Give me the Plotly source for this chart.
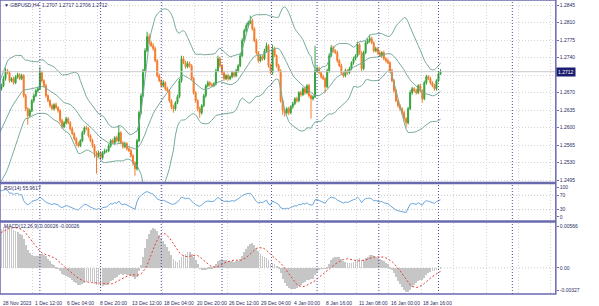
import numpy as np
import pandas as pd
import plotly.graph_objects as go

# ---------------- data (GBPUSD H4) ----------------
# closes before the first visible bar (only needed to warm up the indicators)
pre_close = [1.2402, 1.2396, 1.2410, 1.2422, 1.2416, 1.2430, 1.2444, 1.2436, 1.2450, 1.2462,
             1.2456, 1.2468, 1.2480, 1.2472, 1.2486, 1.2494, 1.2488, 1.2500, 1.2496, 1.2504,
             1.2510, 1.2522, 1.2516, 1.2532, 1.2546, 1.2540, 1.2556, 1.2572, 1.2566, 1.2584,
             1.2598, 1.2592, 1.2610, 1.2626, 1.2620, 1.2640, 1.2654, 1.2648, 1.2668, 1.2678]

close = [1.2684, 1.2698, 1.2714, 1.2710, 1.2694, 1.2698, 1.2690, 1.2702, 1.2706, 1.2698,
         1.2704, 1.2664, 1.2638, 1.2624, 1.2634, 1.2654, 1.2664, 1.2674, 1.2678, 1.2710,
         1.2694, 1.2684, 1.2664, 1.2654, 1.2644, 1.2638, 1.2646, 1.2640, 1.2634, 1.2614,
         1.2602, 1.2610, 1.2618, 1.2610, 1.2598, 1.2588, 1.2578, 1.2568, 1.2564, 1.2574,
         1.2590, 1.2600, 1.2598, 1.2584, 1.2574, 1.2564, 1.2550, 1.2544, 1.2550, 1.2540,
         1.2550, 1.2554, 1.2554, 1.2564, 1.2574, 1.2570, 1.2580, 1.2574, 1.2590, 1.2570,
         1.2562, 1.2568, 1.2558, 1.2554, 1.2544, 1.2530, 1.2518, 1.2574, 1.2630, 1.2664,
         1.2714, 1.2754, 1.2782, 1.2770, 1.2764, 1.2758, 1.2734, 1.2704, 1.2694, 1.2684,
         1.2690, 1.2678, 1.2674, 1.2654, 1.2642, 1.2638, 1.2650, 1.2662, 1.2694, 1.2738,
         1.2730, 1.2722, 1.2728, 1.2724, 1.2698, 1.2670, 1.2654, 1.2638, 1.2630, 1.2644,
         1.2664, 1.2684, 1.2690, 1.2686, 1.2684, 1.2688, 1.2714, 1.2738, 1.2724, 1.2710,
         1.2698, 1.2704, 1.2698, 1.2702, 1.2710, 1.2704, 1.2714, 1.2724, 1.2744, 1.2774,
         1.2794, 1.2804, 1.2810, 1.2814, 1.2798, 1.2774, 1.2750, 1.2734, 1.2742, 1.2738,
         1.2754, 1.2764, 1.2724, 1.2710, 1.2758, 1.2744, 1.2724, 1.2714, 1.2654, 1.2634,
         1.2630, 1.2638, 1.2630, 1.2642, 1.2648, 1.2658, 1.2654, 1.2670, 1.2666, 1.2678,
         1.2670, 1.2684, 1.2664, 1.2658, 1.2662, 1.2714, 1.2718, 1.2710, 1.2702, 1.2698,
         1.2682, 1.2714, 1.2744, 1.2760, 1.2754, 1.2750, 1.2734, 1.2724, 1.2710, 1.2704,
         1.2714, 1.2710, 1.2718, 1.2730, 1.2738, 1.2744, 1.2766, 1.2750, 1.2718, 1.2750,
         1.2770, 1.2774, 1.2778, 1.2770, 1.2754, 1.2758, 1.2750, 1.2744, 1.2750, 1.2738,
         1.2734, 1.2730, 1.2714, 1.2694, 1.2674, 1.2654, 1.2644, 1.2638, 1.2630, 1.2618,
         1.2610, 1.2638, 1.2670, 1.2678, 1.2674, 1.2670, 1.2684, 1.2674, 1.2658, 1.2690,
         1.2702, 1.2698, 1.2690, 1.2684, 1.2678, 1.2694, 1.2707, 1.2712]

# wick lengths in pips (0.0001) above max(open, close) / below min(open, close)
upper_wick = [4, 5, 6, 3, 4, 3, 4, 3, 4, 3,
              4, 3, 4, 3, 4, 3, 4, 3, 4, 12,
              4, 3, 4, 3, 3, 4, 3, 4, 3, 3,
              4, 3, 4, 3, 3, 4, 3, 3, 4, 3,
              4, 3, 4, 3, 3, 4, 3, 3, 4, 3,
              3, 4, 3, 4, 3, 4, 3, 4, 14, 3,
              3, 4, 3, 3, 4, 3, 3, 4, 4, 5,
              4, 5, 10, 6, 4, 5, 4, 3, 4, 3,
              5, 3, 4, 3, 3, 4, 3, 4, 4, 6,
              5, 4, 5, 4, 3, 4, 3, 3, 4, 3,
              4, 3, 4, 3, 4, 3, 4, 6, 4, 3,
              4, 3, 4, 3, 4, 3, 4, 3, 4, 5,
              4, 5, 4, 10, 4, 3, 4, 3, 4, 3,
              4, 6, 3, 4, 8, 4, 3, 4, 3, 3,
              4, 3, 4, 3, 4, 3, 4, 3, 4, 3,
              4, 3, 4, 3, 3, 50, 5, 4, 3, 4,
              3, 4, 5, 5, 4, 3, 4, 3, 4, 3,
              4, 3, 4, 3, 4, 3, 6, 4, 3, 4,
              4, 5, 8, 4, 3, 4, 3, 4, 3, 4,
              3, 4, 3, 4, 3, 3, 4, 3, 3, 4,
              3, 4, 5, 4, 3, 4, 3, 4, 3, 4,
              4, 3, 4, 3, 4, 3, 4, 5]
lower_wick = [4, 3, 4, 3, 4, 3, 4, 3, 4, 3,
              3, 4, 5, 18, 4, 3, 4, 3, 4, 3,
              4, 3, 4, 3, 4, 3, 4, 3, 4, 5,
              4, 3, 4, 3, 4, 3, 4, 5, 4, 3,
              3, 4, 3, 4, 3, 4, 10, 36, 4, 5,
              4, 3, 4, 3, 4, 3, 4, 3, 4, 3,
              4, 3, 4, 3, 4, 6, 14, 4, 3, 4,
              3, 4, 3, 4, 3, 4, 3, 4, 3, 4,
              3, 4, 3, 4, 5, 8, 4, 3, 3, 4,
              3, 4, 3, 4, 3, 4, 4, 5, 10, 4,
              3, 4, 3, 4, 3, 3, 4, 3, 4, 3,
              4, 3, 4, 3, 3, 4, 3, 4, 3, 3,
              3, 3, 4, 3, 4, 3, 4, 4, 3, 4,
              3, 4, 4, 3, 4, 3, 4, 3, 4, 8,
              8, 4, 5, 3, 4, 3, 4, 3, 4, 3,
              4, 3, 4, 40, 4, 3, 4, 3, 4, 3,
              12, 3, 4, 3, 4, 3, 4, 3, 4, 4,
              3, 4, 3, 3, 4, 3, 3, 4, 5, 3,
              3, 3, 4, 3, 4, 3, 4, 3, 4, 3,
              4, 3, 4, 3, 4, 3, 4, 5, 4, 5,
              10, 4, 3, 4, 3, 4, 3, 4, 8, 3,
              4, 3, 4, 3, 4, 4, 3, 1]

time_label_bars = [-0.3, 15.5, 31.5, 47.5, 63.5, 79.5, 95.5, 111.5, 127.5, 143.5, 159.5, 175.5, 191.5, 207.5]
time_label_text = ["28 Nov 2023", "1 Dec 12:00", "6 Dec 04:00", "8 Dec 20:00", "13 Dec 12:00",
                   "18 Dec 04:00", "20 Dec 20:00", "26 Dec 12:00", "29 Dec 04:00", "4 Jan 00:00",
                   "8 Jan 16:00", "11 Jan 08:00", "16 Jan 00:00", "18 Jan 16:00"]
grid_bars = [15.5, 31.5, 47.5, 63.5, 79.5, 95.5, 111.5, 127.5, 143.5, 159.5, 175.5, 191.5, 207.5,
             223.5, 239.5, 255.5, 271.5]
separator_bars = [19, 49, 79, 109, 133.5, 156, 186.5, 216, 252.5]
price_ticks = [1.2495, 1.2530, 1.2565, 1.2600, 1.2635, 1.2670, 1.2705, 1.2740, 1.2775, 1.2810, 1.2845]
price_tick_text = ["1.2495", "1.2530", "1.2565", "1.2600", "1.2635", "1.2670", "", "1.2740",
                   "1.2775", "1.2810", "1.2845"]
last_price = 1.2712

# ---------------- derived series ----------------
n_pre = len(pre_close)
all_close = pd.Series(pre_close + close)
all_idx = np.arange(-n_pre, len(close))
idx = np.arange(len(close))
opens = [pre_close[-1]] + close[:-1]
highs = [max(o, c) + u * 0.0001 for o, c, u in zip(opens, close, upper_wick)]
lows = [min(o, c) - l * 0.0001 for o, c, l in zip(opens, close, lower_wick)]

sma = all_close.rolling(20).mean()
sd = all_close.rolling(20).std(ddof=0)
bb_up, bb_lo = sma + 2 * sd, sma - 2 * sd

delta = all_close.diff()
gain = delta.clip(lower=0).ewm(alpha=1 / 14, adjust=False).mean()
loss = (-delta.clip(upper=0)).ewm(alpha=1 / 14, adjust=False).mean()
rsi = 100 - 100 / (1 + gain / loss)

macd = all_close.ewm(span=12, adjust=False).mean() - all_close.ewm(span=26, adjust=False).mean()
signal = macd.rolling(9).mean()

# ---------------- figure ----------------
GREEN = "#35a33c"
ORANGE = "#f47b2a"
BAND = "#78ab9c"
FRAME = "#6a6aae"
TXT = "#2a2a66"
FONT = "Liberation Sans"
DOT = "1px,2px"

fig = go.Figure()
for band in (bb_up, sma, bb_lo):
    fig.add_trace(go.Scatter(x=all_idx, y=band, mode="lines", line=dict(color=BAND, width=1),
                             xaxis="x", yaxis="y", hoverinfo="skip"))
fig.add_trace(go.Candlestick(x=idx, open=opens, high=highs, low=lows, close=close,
                             increasing=dict(line=dict(color=GREEN, width=1), fillcolor=GREEN),
                             decreasing=dict(line=dict(color=ORANGE, width=1), fillcolor=ORANGE),
                             whiskerwidth=0, xaxis="x", yaxis="y"))
fig.add_trace(go.Scatter(x=all_idx, y=rsi, mode="lines", line=dict(color="#6aa6dc", width=1),
                         xaxis="x2", yaxis="y2"))
fig.add_trace(go.Bar(x=all_idx, y=macd, width=0.4, marker=dict(color="#c6c6c6", line=dict(width=0)),
                     xaxis="x3", yaxis="y3"))
fig.add_trace(go.Scatter(x=all_idx, y=signal, mode="lines", line=dict(color="#e0403a", width=1, dash="2px,2px"),
                         xaxis="x3", yaxis="y3"))

XR = [-0.71, 274.0]
XD = [0, 0.9633]
xcommon = dict(range=XR, domain=XD, showticklabels=False, tickvals=grid_bars, ticks="",
               showgrid=True, gridcolor="#d6d6d6", griddash=DOT, gridwidth=1, zeroline=False,
               fixedrange=True)
ycommon = dict(side="right", showline=False, zeroline=False, ticks="outside", ticklen=2,
               tickcolor=FRAME, ticklabeloverflow="allow",
               tickfont=dict(family=FONT, size=5, color=TXT))

M_DOM = [1 - 182.5 / 294, 1]
R_DOM = [1 - 220.5 / 294, 1 - 184.5 / 294]
C_DOM = [0, 1 - 222.5 / 294]

fig.update_layout(
    width=599, height=306, margin=dict(l=0, r=22, t=0, b=12),
    paper_bgcolor="white", plot_bgcolor="white", showlegend=False, bargap=0,
    xaxis=dict(anchor="y", rangeslider=dict(visible=False), **xcommon),
    xaxis2=dict(anchor="y2", matches="x", **xcommon),
    xaxis3=dict(anchor="y3", matches="x", **xcommon),
    yaxis=dict(anchor="x", domain=M_DOM, range=[1.24904, 1.28554], tickvals=price_ticks,
               ticktext=price_tick_text, showgrid=True, gridcolor="#d6d6d6", griddash=DOT, **ycommon),
    yaxis2=dict(anchor="x2", domain=R_DOM, range=[0, 100], tickvals=[93, 70, 30, 10],
                ticktext=["100", "70", "30", "0"], showgrid=False, **ycommon),
    yaxis3=dict(anchor="x3", domain=C_DOM, range=[-0.00327, 0.00566], tickvals=[0.00522, 0, -0.00277],
                ticktext=["0.00566", "0.00", "-0.00327"], showgrid=False, **ycommon),
)

shapes = []
# bid / level lines
shapes.append(dict(type="line", xref="paper", x0=0, x1=XD[1], yref="y", y0=last_price, y1=last_price,
                   line=dict(color="#c9c9c9", width=1)))
for lv in (70, 30):
    shapes.append(dict(type="line", xref="paper", x0=0, x1=XD[1], yref="y2", y0=lv, y1=lv,
                       line=dict(color="#c4c4c4", width=1, dash=DOT)))
shapes.append(dict(type="line", xref="paper", x0=0, x1=XD[1], yref="y3", y0=0, y1=0,
                   line=dict(color="#cccccc", width=1, dash=DOT)))
# period separators
for sb in separator_bars:
    shapes.append(dict(type="line", xref="x", x0=sb, x1=sb, yref="paper", y0=0, y1=1,
                       line=dict(color="#4a4a9c", width=1, dash=DOT)))
# frame and panel separators
shapes.append(dict(type="rect", xref="paper", x0=0, x1=XD[1], yref="paper", y0=0, y1=1,
                   line=dict(color=FRAME, width=1.5)))
for yp in (1 - 182.9 / 294, 1 - 221.4 / 294):
    shapes.append(dict(type="line", xref="paper", x0=0, x1=XD[1], yref="paper", y0=yp, y1=yp,
                       line=dict(color=FRAME, width=2.5)))
fig.update_layout(shapes=shapes)

ann = []
afont = dict(family=FONT, size=5, color=TXT)
ann.append(dict(text="▼ GBPUSD,H4  1.2707 1.2717 1.2706 1.2712", xref="paper", yref="paper",
                x=0.003, y=1 - 5 / 294, xanchor="left", yanchor="middle", showarrow=False, font=afont))
ann.append(dict(text="RSI(14) 55.9617", xref="paper", yref="paper", x=0.003, y=1 - 187.5 / 294,
                xanchor="left", yanchor="middle", showarrow=False, font=afont))
ann.append(dict(text="MACD(12,26,9) 0.00026 -0.00026", xref="paper", yref="paper", x=0.003,
                y=1 - 226 / 294, xanchor="left", yanchor="middle", showarrow=False, font=afont))
ann.append(dict(text="1.2712", xref="paper", yref="y", x=XD[1] + 0.001, y=last_price, xanchor="left",
                yanchor="middle", showarrow=False, bgcolor="#1c1c70", borderpad=1,
                font=dict(family=FONT, size=5, color="white")))
for b, t in zip(time_label_bars, time_label_text):
    ann.append(dict(text=t, xref="x3", yref="paper", x=b, y=-4 / 294, xanchor="left", yanchor="top",
                    showarrow=False, font=afont))
fig.update_layout(annotations=ann)

fig.write_html("out.html")
